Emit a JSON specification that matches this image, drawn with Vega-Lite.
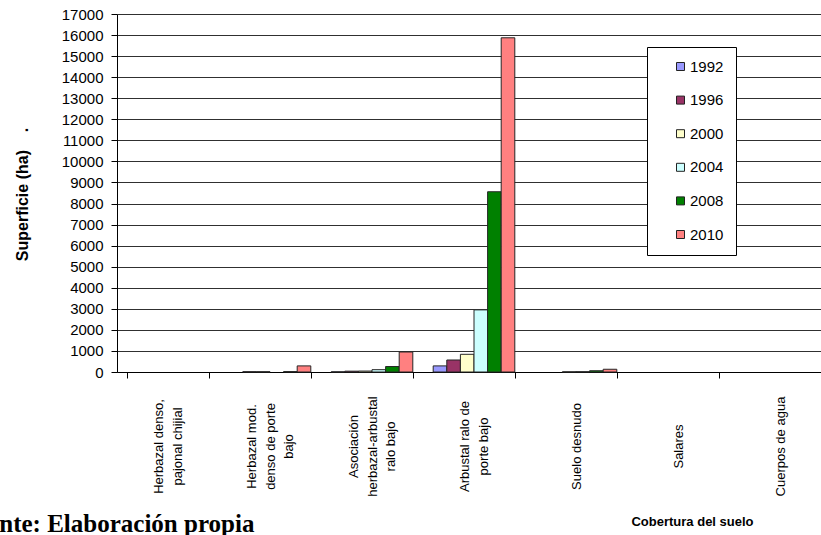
{
  "$schema": "https://vega.github.io/schema/vega-lite/v6.json",
  "autosize": {"type": "none"},
  "width": 714,
  "height": 358,
  "padding": {"left": 117, "top": 14, "right": -10, "bottom": 163},
  "background": "white",
  "title": {
    "text": "Fuente: Elaboración propia",
    "orient": "bottom",
    "anchor": "start",
    "frame": "group",
    "font": "Liberation Serif",
    "fontSize": 25,
    "fontWeight": "bold",
    "color": "#000000",
    "baseline": "alphabetic",
    "dx": -158,
    "offset": 4
  },
  "data": {
    "values": [
      {"cobertura": "Herbazal denso,|pajonal chijial", "anio": "1992", "ha": 0},
      {"cobertura": "Herbazal denso,|pajonal chijial", "anio": "1996", "ha": 0},
      {"cobertura": "Herbazal denso,|pajonal chijial", "anio": "2000", "ha": 0},
      {"cobertura": "Herbazal denso,|pajonal chijial", "anio": "2004", "ha": 0},
      {"cobertura": "Herbazal denso,|pajonal chijial", "anio": "2008", "ha": 0},
      {"cobertura": "Herbazal denso,|pajonal chijial", "anio": "2010", "ha": 0},
      {"cobertura": "Herbazal mod.|denso de porte|bajo", "anio": "1992", "ha": 0},
      {"cobertura": "Herbazal mod.|denso de porte|bajo", "anio": "1996", "ha": 15},
      {"cobertura": "Herbazal mod.|denso de porte|bajo", "anio": "2000", "ha": 15},
      {"cobertura": "Herbazal mod.|denso de porte|bajo", "anio": "2004", "ha": 0},
      {"cobertura": "Herbazal mod.|denso de porte|bajo", "anio": "2008", "ha": 20},
      {"cobertura": "Herbazal mod.|denso de porte|bajo", "anio": "2010", "ha": 290},
      {"cobertura": "Asociación|herbazal-arbustal|ralo bajo", "anio": "1992", "ha": 10},
      {"cobertura": "Asociación|herbazal-arbustal|ralo bajo", "anio": "1996", "ha": 40},
      {"cobertura": "Asociación|herbazal-arbustal|ralo bajo", "anio": "2000", "ha": 45},
      {"cobertura": "Asociación|herbazal-arbustal|ralo bajo", "anio": "2004", "ha": 110},
      {"cobertura": "Asociación|herbazal-arbustal|ralo bajo", "anio": "2008", "ha": 260},
      {"cobertura": "Asociación|herbazal-arbustal|ralo bajo", "anio": "2010", "ha": 950},
      {"cobertura": "Arbustal ralo de|porte bajo", "anio": "1992", "ha": 290},
      {"cobertura": "Arbustal ralo de|porte bajo", "anio": "1996", "ha": 570},
      {"cobertura": "Arbustal ralo de|porte bajo", "anio": "2000", "ha": 840},
      {"cobertura": "Arbustal ralo de|porte bajo", "anio": "2004", "ha": 2950},
      {"cobertura": "Arbustal ralo de|porte bajo", "anio": "2008", "ha": 8560},
      {"cobertura": "Arbustal ralo de|porte bajo", "anio": "2010", "ha": 15870},
      {"cobertura": "Suelo desnudo", "anio": "1992", "ha": 0},
      {"cobertura": "Suelo desnudo", "anio": "1996", "ha": 0},
      {"cobertura": "Suelo desnudo", "anio": "2000", "ha": 10},
      {"cobertura": "Suelo desnudo", "anio": "2004", "ha": 15},
      {"cobertura": "Suelo desnudo", "anio": "2008", "ha": 60},
      {"cobertura": "Suelo desnudo", "anio": "2010", "ha": 130},
      {"cobertura": "Salares", "anio": "1992", "ha": 0},
      {"cobertura": "Salares", "anio": "1996", "ha": 0},
      {"cobertura": "Salares", "anio": "2000", "ha": 0},
      {"cobertura": "Salares", "anio": "2004", "ha": 0},
      {"cobertura": "Salares", "anio": "2008", "ha": 0},
      {"cobertura": "Salares", "anio": "2010", "ha": 0},
      {"cobertura": "Cuerpos de agua", "anio": "1992", "ha": 0},
      {"cobertura": "Cuerpos de agua", "anio": "1996", "ha": 0},
      {"cobertura": "Cuerpos de agua", "anio": "2000", "ha": 0},
      {"cobertura": "Cuerpos de agua", "anio": "2004", "ha": 0},
      {"cobertura": "Cuerpos de agua", "anio": "2008", "ha": 0},
      {"cobertura": "Cuerpos de agua", "anio": "2010", "ha": 0}
    ]
  },
  "mark": {"type": "bar", "stroke": "#262626", "strokeWidth": 1},
  "encoding": {
    "x": {
      "field": "cobertura",
      "type": "nominal",
      "sort": null,
      "scale": {"paddingInner": 0.2, "paddingOuter": 0.1},
      "title": "Cobertura del suelo",
      "axis": {
        "labelExpr": "split(datum.label, '|')",
        "labelAngle": 270,
        "labelAlign": "center",
        "labelBaseline": "middle",
        "labelPadding": 68,
        "labelLineHeight": 18.5,
        "labelOffset": {
          "condition": [
            {"test": "length(split(datum.value, '|')) == 3", "value": -18.5},
            {"test": "length(split(datum.value, '|')) == 2", "value": -9.25}
          ],
          "value": 0
        },
        "labelFont": "Liberation Sans",
        "labelFontSize": 13,
        "labelColor": "#000000",
        "labelLimit": 300,
        "tickBand": "extent",
        "tickSize": 6,
        "tickColor": "#000000",
        "domainColor": "#000000",
        "grid": false,
        "titleFont": "Liberation Sans",
        "titleFontSize": 13,
        "titleFontWeight": "bold",
        "titleColor": "#000000",
        "titleX": 575,
        "titleY": 149,
        "titleAlign": "center",
        "titleBaseline": "middle"
      }
    },
    "xOffset": {
      "field": "anio",
      "type": "nominal",
      "sort": ["1992", "1996", "2000", "2004", "2008", "2010"],
      "scale": {"paddingInner": 0, "paddingOuter": 0}
    },
    "y": {
      "field": "ha",
      "type": "quantitative",
      "scale": {"domain": [0, 17000], "nice": false},
      "title": "Superficie (ha)\u00a0\u00a0\u00a0\u00a0.",
      "axis": {
        "values": [0, 1000, 2000, 3000, 4000, 5000, 6000, 7000, 8000, 9000, 10000, 11000, 12000, 13000, 14000, 15000, 16000, 17000],
        "format": "d",
        "labelFont": "Liberation Sans",
        "labelFontSize": 15,
        "labelColor": "#000000",
        "labelPadding": 8,
        "tickSize": 6,
        "tickColor": "#000000",
        "domainColor": "#000000",
        "grid": true,
        "gridColor": "#303030",
        "gridWidth": 1,
        "titleFont": "Liberation Sans",
        "titleFontSize": 16,
        "titleFontWeight": "bold",
        "titleColor": "#000000",
        "titleAngle": 270,
        "titleX": -95,
        "titleY": 180,
        "titleAlign": "center",
        "titleBaseline": "middle"
      }
    },
    "strokeOpacity": {
      "condition": {"test": "datum.ha == 0", "value": 0},
      "value": 1
    },
    "color": {
      "field": "anio",
      "type": "nominal",
      "scale": {
        "domain": ["1992", "1996", "2000", "2004", "2008", "2010"],
        "range": ["#9999FF", "#993366", "#FFFFCC", "#CCFFFF", "#008000", "#FF8080"]
      },
      "legend": {
        "orient": "none",
        "legendX": 530,
        "legendY": 33,
        "title": null,
        "padding": 12,
        "symbolOffset": 14,
        "strokeColor": "#000000",
        "fillColor": "#FFFFFF",
        "symbolType": "square",
        "symbolSize": 64,
        "symbolStrokeColor": "#222222",
        "symbolStrokeWidth": 1,
        "labelFont": "Liberation Sans",
        "labelFontSize": 15,
        "labelColor": "#000000",
        "labelOffset": 2,
        "rowPadding": 17.6
      }
    }
  },
  "config": {
    "view": {"stroke": null}
  }
}
